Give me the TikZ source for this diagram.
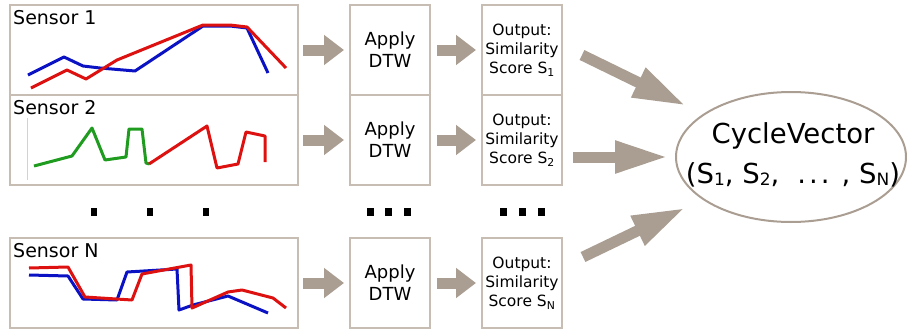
\documentclass[tikz,border=0pt]{standalone}
\usepackage{fontspec}
\setmainfont{DejaVu Sans}
\usetikzlibrary{arrows.meta,positioning,calc,shapes.geometric}
\definecolor{DtwBlue}{HTML}{0B12C4}
\definecolor{DtwRed}{HTML}{DE1111}
\definecolor{DtwGreen}{HTML}{1F9C1F}
\definecolor{DtwFrame}{HTML}{C8BDB3}
\definecolor{DtwArrow}{HTML}{AA9E93}
% large subscript for the vector entries
\newcommand{\cvsub}[1]{\raisebox{-2pt}{\fontsize{17}{17}\selectfont #1}}

\begin{document}
\begin{tikzpicture}[x=1pt,y=-1pt,
    frame/.style={draw=DtwFrame,line width=2pt,inner sep=0pt},
    sensorbox/.style={frame,minimum width=288pt,minimum height=90pt},
    stagebox/.style={frame,minimum width=80pt,minimum height=90pt,align=center},
    applytext/.style={font=\fontsize{18}{22}\selectfont},
    scoretext/.style={font=\fontsize{15.5}{19}\selectfont},
    fat/.style={DtwArrow,line width=11pt,-{Triangle[length=20pt,width=29pt]}},
    bigfat/.style={DtwArrow,line width=11pt,-{Triangle[length=53pt,width=30pt]}},
    trace/.style={line width=3pt,line join=round}]
  \useasboundingbox (0,0) rectangle (907,332);

  % sensor panels
  \node[sensorbox] (s1) at (154,50) {};
  \node[sensorbox] (s2) at (154,140) {};
  \node[sensorbox] (sn) at (154,283) {};
  \foreach \s/\t in {s1/1,s2/2,sn/N}
    \node[anchor=base west,inner sep=0pt,font=\fontsize{19}{22}\selectfont]
      (\s lab) at ($(\s.north west)+(4,20)$) {Sensor \t};

  % signals
  \draw[trace,DtwBlue] (28,75)--(64,57)--(83,66)--(100,68)--(135,71)--(203,26)
      --(230,26)--(247,28)--(268,73);
  \draw[trace,DtwRed] (31,88)--(67,70)--(86,79)--(117,60)--(203,25)--(230,25)
      --(247,27)--(286,68);
  \draw[gray!35,line width=1pt] (27,118)--(27,180);
  \draw[trace,DtwGreen] (34,166)--(72,156)--(92,128)--(105,160)--(126,157)
      --(129,129)--(142,129)--(146,163)--(149,164);
  \draw[trace,DtwRed] (149,164)--(207,126)--(217,168)--(238,164)--(246,132)
      --(265,136)--(265,162);
  \draw[trace,DtwBlue] (29,275)--(68,276)--(83,299)--(117,300)--(127,272)
      --(177,269)--(179,310)--(193,305)--(228,296)--(268,313);
  \draw[trace,DtwRed] (29,268)--(68,267)--(85,297)--(132,300)--(142,274)
      --(191,265)--(192,308)--(228,292)--(242,290)--(273,298)--(286,308);

  % DTW and score boxes
  \foreach \s/\y/\t in {1/50/1,2/140/2,n/283/N} {
    \node[stagebox,applytext] (a\s) at (390,\y) {Apply\\DTW};
    \node[stagebox,scoretext] (o\s) at (522,\y)
      {Output:\\Similarity\\Score S\textsubscript{\t}};
    \draw[fat,shorten <=4pt,shorten >=5pt] (s\s) -- (a\s);
    \draw[fat,shorten <=6pt,shorten >=5pt] (a\s) -- (o\s);
  }

  % ellipsis marks
  \foreach \x in {94,150,206} \fill (\x-3,208) rectangle +(6,8);
  \foreach \x in {370,388,407,503,522,541} \fill (\x-3.5,208) rectangle +(7,8);

  % result
  \node[draw=DtwArrow,line width=2pt,ellipse,minimum width=230pt,
        minimum height=130pt,inner sep=0pt] (cv) at (791,157) {};
  \node[align=center,inner sep=0pt,font=\fontsize{27.5}{40}\selectfont] (cvlab)
    at ([xshift=2pt,yshift=2pt]cv.center)
    {CycleVector\\(S\cvsub{1}, S\cvsub{2},\hspace{18pt}.\kern3pt.\kern3pt.\hspace{12pt}, S\cvsub{N})};
  \coordinate (f1) at (582,55);
  \coordinate (f2) at (573,157);
  \coordinate (fn) at (583,257);
  \draw[bigfat,shorten >=19pt] (f1) -- (cv);
  \draw[bigfat,shorten >=7pt] (f2) -- (cv);
  \draw[bigfat,shorten >=19pt] (fn) -- (cv);
\end{tikzpicture}
\end{document}
